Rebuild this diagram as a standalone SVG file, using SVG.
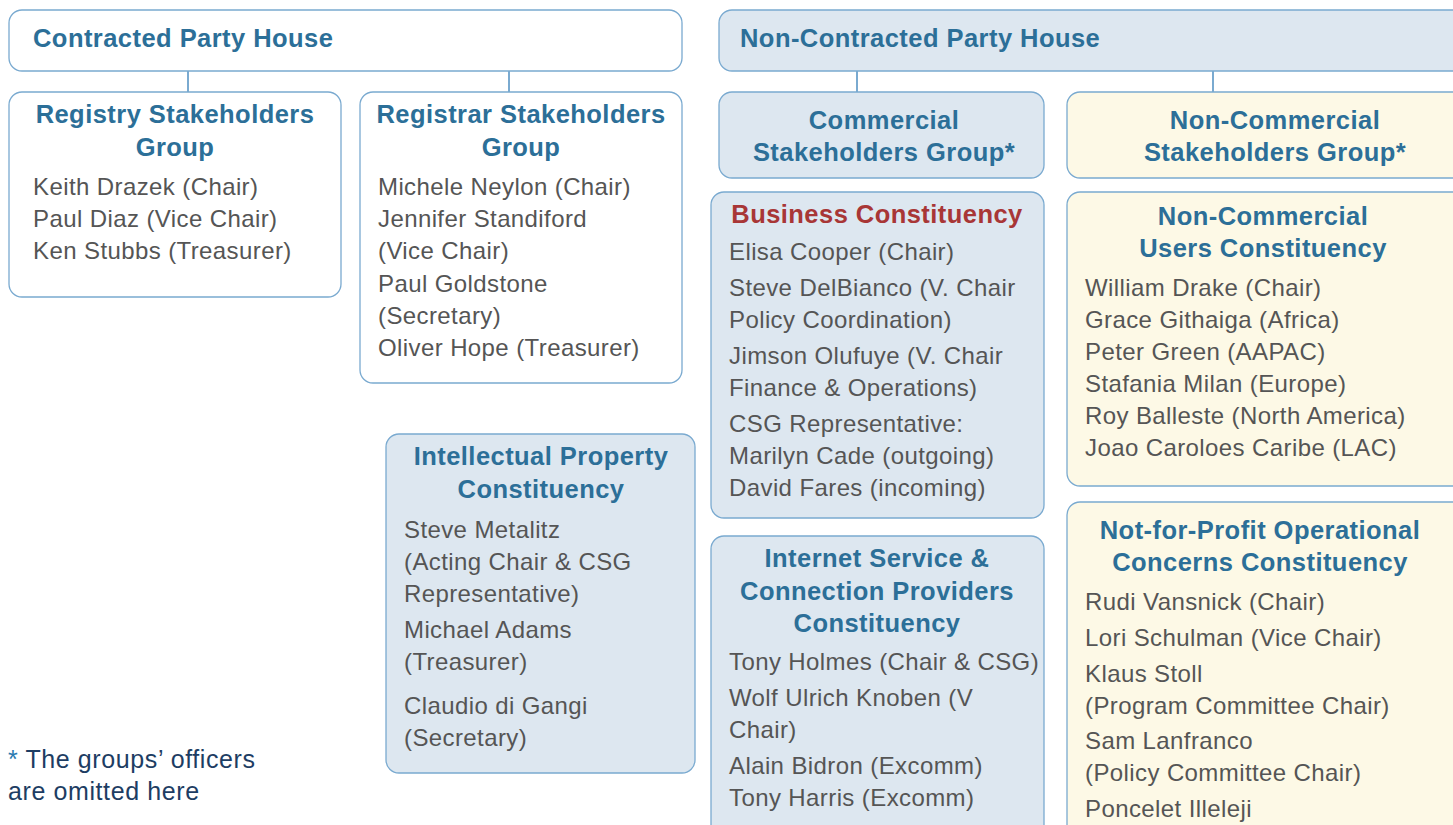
<svg xmlns="http://www.w3.org/2000/svg" width="1453" height="825" viewBox="0 0 1453 825">
<style>
.box{stroke:#7aaad0;stroke-width:1.3}
.w{fill:#ffffff}.b{fill:#dde7f0}.y{fill:#fdf9e6}
.t{font-family:"Liberation Sans",Arial,sans-serif;font-weight:700;font-size:25.5px;letter-spacing:0.45px;fill:#2c6f98}
.tc{text-anchor:middle}
.r{fill:#a83636}
.p{font-family:"Liberation Sans",Arial,sans-serif;font-size:24px;letter-spacing:0.4px;fill:#555555}
.fn{font-family:"Liberation Sans",Arial,sans-serif;font-size:25px;letter-spacing:0.6px;fill:#1d3d63}
.conn{stroke:#7aaad0;stroke-width:2;fill:none}
</style>
<g id="connectors">
<line class="conn" x1="188" y1="71" x2="188" y2="92"/>
<line class="conn" x1="509" y1="71" x2="509" y2="92"/>
<line class="conn" x1="857" y1="71" x2="857" y2="92"/>
<line class="conn" x1="1213" y1="71" x2="1213" y2="92"/>
</g>
<g id="cph">
<rect class="box w" x="9" y="10" width="673" height="61" rx="13"/>
<text class="t" x="33" y="47">Contracted Party House</text>
</g>
<g id="ncph">
<rect class="box b" x="719" y="10" width="760" height="61" rx="13"/>
<text class="t" x="740" y="47">Non-Contracted Party House</text>
</g>
<g id="registry">
<rect class="box w" x="9" y="92" width="332" height="205" rx="13"/>
<text class="t tc" x="175" y="123">Registry Stakeholders</text>
<text class="t tc" x="175" y="156">Group</text>
<text class="p" x="33" y="195">Keith Drazek (Chair)</text>
<text class="p" x="33" y="227">Paul Diaz (Vice Chair)</text>
<text class="p" x="33" y="259">Ken Stubbs (Treasurer)</text>
</g>
<g id="registrar">
<rect class="box w" x="360" y="92" width="322" height="291" rx="13"/>
<text class="t tc" x="521" y="123">Registrar Stakeholders</text>
<text class="t tc" x="521" y="156">Group</text>
<text class="p" x="378" y="195">Michele Neylon (Chair)</text>
<text class="p" x="378" y="227">Jennifer Standiford</text>
<text class="p" x="378" y="259">(Vice Chair)</text>
<text class="p" x="378" y="292">Paul Goldstone</text>
<text class="p" x="378" y="324">(Secretary)</text>
<text class="p" x="378" y="356">Oliver Hope (Treasurer)</text>
</g>
<g id="csg">
<rect class="box b" x="719" y="92" width="325" height="86" rx="13"/>
<text class="t tc" x="884" y="129">Commercial</text>
<text class="t tc" x="884" y="161">Stakeholders Group*</text>
</g>
<g id="ncsg">
<rect class="box y" x="1067" y="92" width="410" height="86" rx="13"/>
<text class="t tc" x="1275" y="129">Non-Commercial</text>
<text class="t tc" x="1275" y="161">Stakeholders Group*</text>
</g>
<g id="bc">
<rect class="box b" x="711" y="192" width="333" height="326" rx="13"/>
<text class="t tc r" x="877" y="223">Business Constituency</text>
<text class="p" x="729" y="260">Elisa Cooper (Chair)</text>
<text class="p" x="729" y="296">Steve DelBianco (V. Chair</text>
<text class="p" x="729" y="328">Policy Coordination)</text>
<text class="p" x="729" y="364">Jimson Olufuye (V. Chair</text>
<text class="p" x="729" y="396">Finance &amp; Operations)</text>
<text class="p" x="729" y="432">CSG Representative:</text>
<text class="p" x="729" y="464">Marilyn Cade (outgoing)</text>
<text class="p" x="729" y="496">David Fares (incoming)</text>
</g>
<g id="ncuc">
<rect class="box y" x="1067" y="192" width="410" height="294" rx="13"/>
<text class="t tc" x="1263" y="225">Non-Commercial</text>
<text class="t tc" x="1263" y="257">Users Constituency</text>
<text class="p" x="1085" y="296">William Drake (Chair)</text>
<text class="p" x="1085" y="328">Grace Githaiga (Africa)</text>
<text class="p" x="1085" y="360">Peter Green (AAPAC)</text>
<text class="p" x="1085" y="392">Stafania Milan (Europe)</text>
<text class="p" x="1085" y="424">Roy Balleste (North America)</text>
<text class="p" x="1085" y="456">Joao Caroloes Caribe (LAC)</text>
</g>
<g id="ipc">
<rect class="box b" x="386" y="434" width="309" height="339" rx="13"/>
<text class="t tc" x="541" y="465">Intellectual Property</text>
<text class="t tc" x="541" y="498">Constituency</text>
<text class="p" x="404" y="538">Steve Metalitz</text>
<text class="p" x="404" y="570">(Acting Chair &amp; CSG</text>
<text class="p" x="404" y="602">Representative)</text>
<text class="p" x="404" y="638">Michael Adams</text>
<text class="p" x="404" y="670">(Treasurer)</text>
<text class="p" x="404" y="714">Claudio di Gangi</text>
<text class="p" x="404" y="746">(Secretary)</text>
</g>
<g id="ispcp">
<rect class="box b" x="711" y="536" width="333" height="310" rx="13"/>
<text class="t tc" x="877" y="567">Internet Service &amp;</text>
<text class="t tc" x="877" y="600">Connection Providers</text>
<text class="t tc" x="877" y="632">Constituency</text>
<text class="p" x="729" y="670">Tony Holmes (Chair &amp; CSG)</text>
<text class="p" x="729" y="706">Wolf Ulrich Knoben (V</text>
<text class="p" x="729" y="738">Chair)</text>
<text class="p" x="729" y="774">Alain Bidron (Excomm)</text>
<text class="p" x="729" y="806">Tony Harris (Excomm)</text>
</g>
<g id="npoc">
<rect class="box y" x="1067" y="502" width="410" height="344" rx="13"/>
<text class="t tc" x="1260" y="539">Not-for-Profit Operational</text>
<text class="t tc" x="1260" y="571">Concerns Constituency</text>
<text class="p" x="1085" y="610">Rudi Vansnick (Chair)</text>
<text class="p" x="1085" y="646">Lori Schulman (Vice Chair)</text>
<text class="p" x="1085" y="682">Klaus Stoll</text>
<text class="p" x="1085" y="714">(Program Committee Chair)</text>
<text class="p" x="1085" y="749">Sam Lanfranco</text>
<text class="p" x="1085" y="781">(Policy Committee Chair)</text>
<text class="p" x="1085" y="817">Poncelet Illeleji</text>
</g>
<g id="footnote">
<text class="fn" x="8" y="768"><tspan fill="#2a7ab0">*</tspan> The groups’ officers</text>
<text class="fn" x="8" y="800">are omitted here</text>
</g>
</svg>
